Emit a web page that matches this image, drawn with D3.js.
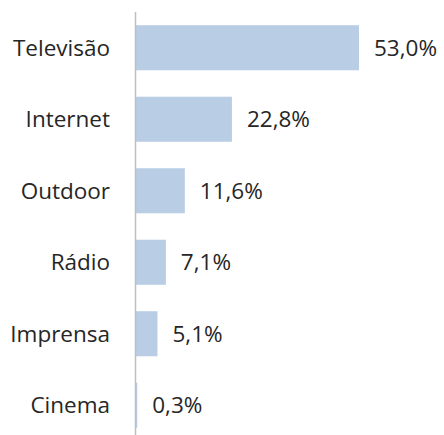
<!DOCTYPE html>
<html>
<head>
<meta charset="utf-8">
<script src="https://cdn.jsdelivr.net/npm/d3@7"></script>
<style>
  body { margin: 0; background: #fff; }
  svg { display: block; }
</style>
</head>
<body>
<div id="chart"></div>
<script>
// Media share data
const categories = ['Televisão', 'Internet', 'Outdoor', 'Rádio', 'Imprensa', 'Cinema'];
const shares = [53.0, 22.8, 11.6, 7.1, 5.1, 0.3];

const width = 444, height = 435;
const axisX = 136;

const svg = d3.select('#chart').append('svg')
  .attr('width', width)
  .attr('height', height);

// Scales
const x = d3.scaleLinear()
  .domain([0, 53.0])
  .range([axisX, 359]);

const y = d3.scaleBand()
  .domain(categories)
  .range([12, 441])
  .paddingInner(0.37)
  .paddingOuter(0.185);

const fmt = v => v.toFixed(1).replace('.', ',') + '%';

// Bars
svg.selectAll('rect.bar')
  .data(categories)
  .join('rect')
  .attr('class', 'bar')
  .attr('x', x(0))
  .attr('y', d => y(d))
  .attr('width', (d, i) => x(shares[i]) - x(0))
  .attr('height', y.bandwidth())
  .attr('fill', '#b9cde5');

// Category labels
svg.selectAll('text.cat')
  .data(categories)
  .join('text')
  .attr('class', 'cat')
  .attr('x', 110)
  .attr('y', d => y(d) + y.bandwidth() / 2)
  .attr('dy', '0.36em')
  .attr('text-anchor', 'end')
  .attr('font-family', 'Open Sans, sans-serif')
  .attr('font-size', '22.5px')
  .attr('fill', '#262626')
  .text(d => d);

// Value labels
svg.selectAll('text.val')
  .data(categories)
  .join('text')
  .attr('class', 'val')
  .attr('x', (d, i) => x(shares[i]) + 15)
  .attr('y', d => y(d) + y.bandwidth() / 2)
  .attr('dy', '0.36em')
  .attr('font-family', 'Open Sans, sans-serif')
  .attr('font-size', '22.5px')
  .attr('fill', '#262626')
  .text((d, i) => fmt(shares[i]));

// Vertical axis line
svg.append('line')
  .attr('x1', axisX - 0.5)
  .attr('x2', axisX - 0.5)
  .attr('y1', 12)
  .attr('y2', height)
  .attr('stroke', '#bfbfbf')
  .attr('stroke-width', 1.5);
</script>
</body>
</html>
